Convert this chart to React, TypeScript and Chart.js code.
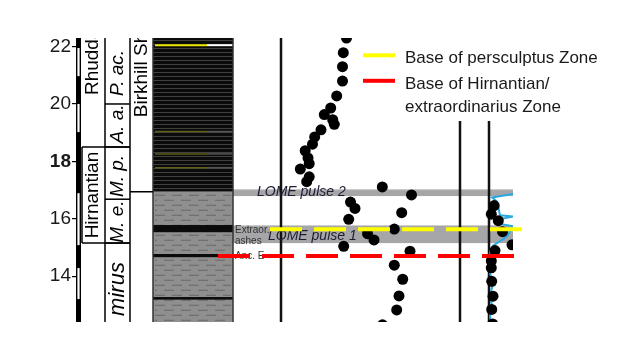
import React, { useEffect, useRef } from "react";
import { Chart, registerables } from "chart.js";

Chart.register(...registerables);

// ---- axis ----
const yTicks = [14, 16, 18, 20, 22];
const yMin = 12.4;
const yMax = 22.3;
const xMin = 0;
const xMax = 437;

// ---- isotope curve (left track) ----
const curveAx = [270.5, 267.3, 266.5, 266.5, 260.7, 254.7, 248.3, 256.7, 258.3, 245, 238.7, 236.5, 229.2, 232, 233.2, 224.3, 233.2, 230.7, 306.3, 335.5, 274.5, 279, 325.7, 272.7, 318.3, 291.5, 298, 267.7, 334, 318.3, 326.7, 323, 320.7, 306.5];
const curveAy = [22.3, 21.79, 21.3, 20.8, 20.28, 19.86, 19.63, 19.45, 19.29, 19.1, 18.85, 18.6, 18.37, 18.12, 17.92, 17.73, 17.46, 17.29, 17.11, 16.83, 16.58, 16.36, 16.21, 15.98, 15.64, 15.48, 15.26, 15.04, 14.87, 14.38, 13.89, 13.31, 12.82, 12.3];

// ---- right track ----
const curveBx = [418.2, 415.3, 422.3, 426.5, 436, 419, 415.3, 415.3, 415.7, 417, 415.7, 416.7];
const curveBy = [16.46, 16.16, 15.93, 15.55, 15.09, 14.89, 14.53, 14.29, 13.82, 13.3, 12.84, 12.33];
const cyanX = [437, 416, 421, 424, 437, 421, 424, 437, 431, 417, 414, 416, 414, 417, 414, 416, 414, 415];
const cyanY = [16.86, 16.74, 16.6, 16.12, 16.08, 15.96, 15.82, 15.74, 15.38, 15.06, 14.84, 14.49, 14.11, 13.72, 13.34, 12.96, 12.61, 12.33];

// ---- stratigraphy ----
const stageBounds = [18.5, 15.15];
const stageLabels = ["Rhuddanian", "Hirnantian"];
const zoneBounds = [20.0, 18.5, 16.68, 15.15];
const zoneLabels = ["P. ac.", "A. a.", "M. p.", "M. e.", "mirus"];
const zoneLabelY = [21.08, 19.3, 17.49, 15.9, 13.55];
const formationBase = 16.94;
const formationLabel = "Birkhill Shale";
const blackBeds = [[15.53, 15.78], [14.66, 14.77], [13.18, 13.27]];
const ashBeds = [22.05, 19.04, 18.26, 17.78];
const scaleBarBreaks = [21.95, 20.97, 20.0, 19.02, 16.89, 15.08, 14.28, 13.2];
const lomeBands = [[16.79, 17.03], [15.15, 15.78]];
const lomeLabels = ["LOME pulse 2", "LOME pulse 1"];
const lomeLabelY = [16.79, 15.26];
const ashNotes = ["Extraor.", "ashes", "Anc. E"];
const ashNoteY = [15.61, 15.21, 14.7];
const persculptusBase = 15.63;
const hirnantianBase = 14.7;
const legendLabels = ["Base of persculptus Zone", "Base of Hirnantian/", "extraordinarius Zone"];

const SANS = '"Liberation Sans", Arial, sans-serif';

function vText(ctx: CanvasRenderingContext2D, text: string, x: number, y: number, font: string, align: CanvasTextAlign) {
  ctx.save();
  ctx.translate(x, y);
  ctx.rotate(-Math.PI / 2);
  ctx.font = font;
  ctx.textAlign = align;
  ctx.textBaseline = "middle";
  ctx.fillStyle = "#000";
  ctx.fillText(text, 0, 0);
  ctx.restore();
}

function line(ctx: CanvasRenderingContext2D, x0: number, y0: number, x1: number, y1: number) {
  ctx.beginPath();
  ctx.moveTo(x0, y0);
  ctx.lineTo(x1, y1);
  ctx.stroke();
}

const figurePlugin = {
  id: "figure",
  beforeDatasetsDraw(chart: any) {
    const { ctx, chartArea: ca, scales } = chart;
    const X = (u: number) => scales.x.getPixelForValue(u);
    const Y = (v: number) => scales.y.getPixelForValue(v);
    ctx.save();
    ctx.beginPath();
    ctx.rect(ca.left, ca.top, ca.right - ca.left, ca.bottom - ca.top);
    ctx.clip();

    const lx0 = X(77), lx1 = X(157);

    // LOME bands
    ctx.fillStyle = "#a6a6a8";
    lomeBands.forEach(([a, b]) => ctx.fillRect(lx1, Y(b), ca.right - lx1, Y(a) - Y(b)));
    ctx.strokeStyle = "#cfcfd1";
    ctx.lineWidth = 1;
    lomeBands.forEach(([a, b]) => line(ctx, lx1, Y(b) + 0.5, ca.right, Y(b) + 0.5));

    // lithology: black shale top
    const yBase = Y(formationBase);
    ctx.fillStyle = "#0b0b0b";
    ctx.fillRect(lx0, ca.top, lx1 - lx0, yBase - ca.top);
    ctx.strokeStyle = "rgba(110,110,110,0.55)";
    ctx.lineWidth = 1;
    for (let py = ca.top + 2.5; py < yBase - 1; py += 4) line(ctx, lx0, py, lx1, py);
    ashBeds.forEach((v, i) => {
      const py = Y(v);
      ctx.lineWidth = i === 0 ? 2 : 1.5;
      ctx.strokeStyle = i === 0 ? "#e6e600" : "#5e5e18";
      line(ctx, lx0 + 2, py, X(131), py);
      ctx.strokeStyle = i === 0 ? "#ffffff" : "#555555";
      line(ctx, X(131), py, lx1, py);
    });
    // grey mudstone
    ctx.fillStyle = "#8f8f8f";
    ctx.fillRect(lx0, yBase, lx1 - lx0, ca.bottom - yBase);
    ctx.strokeStyle = "#686868";
    ctx.lineWidth = 1;
    ctx.setLineDash([10, 7]);
    let row = 0;
    for (let py = yBase + 3.5; py < ca.bottom; py += 5, row++) {
      ctx.lineDashOffset = row % 2 ? 8 : 0;
      line(ctx, lx0 + 2, py, lx1 - 2, py);
    }
    ctx.setLineDash([]);
    ctx.fillStyle = "#0b0b0b";
    blackBeds.forEach(([a, b]) => ctx.fillRect(lx0, Y(b), lx1 - lx0, Y(a) - Y(b)));
    ctx.strokeStyle = "#333";
    ctx.lineWidth = 1.5;
    ctx.strokeRect(lx0, ca.top - 3, lx1 - lx0, ca.bottom - ca.top + 6);

    // column boxes
    ctx.strokeStyle = "#000";
    ctx.lineWidth = 1.5;
    line(ctx, X(29), ca.top, X(29), ca.bottom);
    line(ctx, X(54), ca.top, X(54), ca.bottom);
    line(ctx, X(6), Y(stageBounds[0]), X(6), Y(stageBounds[1]));
    stageBounds.forEach((v) => line(ctx, X(6), Y(v), X(54), Y(v)));
    zoneBounds.forEach((v) => line(ctx, X(29), Y(v), X(54), Y(v)));
    line(ctx, X(54), yBase, lx0, yBase);

    // scale bar
    const edges = [yMax, ...scaleBarBreaks, yMin];
    ctx.fillStyle = "#000";
    for (let i = 0; i < edges.length - 1; i += 2) ctx.fillRect(X(0), Y(edges[i]), X(5) - X(0), Y(edges[i + 1]) - Y(edges[i]));
    ctx.lineWidth = 1.4;
    ctx.strokeRect(X(0.7), ca.top - 2, X(4.3) - X(0.7), ca.bottom - ca.top + 4);

    // vertical track lines
    ctx.strokeStyle = "#111";
    ctx.lineWidth = 2.5;
    [205, 384, 413].forEach((u) => line(ctx, X(u), ca.top, X(u), ca.bottom));

    // column texts
    vText(ctx, stageLabels[0], X(17), Y(20.31), `19px ${SANS}`, "left");
    vText(ctx, stageLabels[1], X(17), Y((stageBounds[0] + stageBounds[1]) / 2), `19px ${SANS}`, "center");
    zoneLabels.forEach((t, i) => {
      const size = i === 4 ? 22 : 19;
      vText(ctx, t, X(41.5), Y(zoneLabelY[i]), `italic ${size}px ${SANS}`, "center");
    });
    vText(ctx, formationLabel, X(65.5), Y(19.54), `19px ${SANS}`, "left");

    // small notes
    ctx.font = `10px ${SANS}`;
    ctx.fillStyle = "#333";
    ctx.textAlign = "left";
    ctx.textBaseline = "middle";
    ashNotes.forEach((t, i) => ctx.fillText(t, X(159), Y(ashNoteY[i])));

    // LOME labels
    ctx.font = `italic 14px ${SANS}`;
    ctx.fillStyle = "#1c1c34";
    ctx.textBaseline = "alphabetic";
    lomeLabels.forEach((t, i) => ctx.fillText(t, X(i === 0 ? 181 : 192), Y(lomeLabelY[i])));

    ctx.restore();
  },
  afterDraw(chart: any) {
    const { ctx, scales } = chart;
    const X = (u: number) => scales.x.getPixelForValue(u);
    const Y = (v: number) => scales.y.getPixelForValue(v);
    ctx.save();
    ctx.lineWidth = 4;
    ctx.setLineDash([32, 12]);
    ctx.strokeStyle = "#ffff00";
    line(ctx, X(194), Y(persculptusBase), X(446), Y(persculptusBase));
    ctx.strokeStyle = "#ff0000";
    line(ctx, X(142), Y(hirnantianBase), X(438), Y(hirnantianBase));
    ctx.setLineDash([]);

    // legend
    ctx.fillStyle = "#ffffff";
    ctx.fillRect(353, 36, 262, 85);
    ctx.lineWidth = 4;
    ctx.strokeStyle = "#ffff00";
    line(ctx, 363, 55.3, 395, 55.3);
    ctx.strokeStyle = "#ff0000";
    line(ctx, 363, 80.8, 395, 80.8);
    ctx.font = `17px ${SANS}`;
    ctx.fillStyle = "#1a1a1a";
    ctx.textAlign = "left";
    ctx.textBaseline = "middle";
    ctx.fillText(legendLabels[0], 405, 58.5);
    ctx.fillText(legendLabels[1], 405, 84.5);
    ctx.fillText(legendLabels[2], 405, 107.5);
    ctx.restore();
  },
};

export default function App() {
  const ref = useRef<HTMLCanvasElement | null>(null);
  useEffect(() => {
    if (!ref.current) return;
    const chart = new Chart(ref.current, {
      type: "scatter",
      data: {
        datasets: [
          {
            label: "curve A",
            data: curveAx.map((x, i) => ({ x, y: curveAy[i] })),
            backgroundColor: "#000",
            borderColor: "#000",
            pointRadius: 5.5,
            pointBorderWidth: 0,
            showLine: false,
            clip: 0,
          },
          {
            label: "curve B",
            data: curveBx.map((x, i) => ({ x, y: curveBy[i] })),
            backgroundColor: "#000",
            borderColor: "#000",
            pointRadius: 5.5,
            pointBorderWidth: 0,
            showLine: false,
            clip: 0,
          },
          {
            label: "trace",
            data: cyanX.map((x, i) => ({ x, y: cyanY[i] })),
            borderColor: "#2aa9e0",
            backgroundColor: "#2aa9e0",
            borderWidth: 2,
            pointRadius: 0,
            showLine: true,
            clip: 0,
          },
        ],
      },
      options: {
        animation: false,
        responsive: false,
        events: [],
        layout: { padding: { top: 38, bottom: 42, left: 0, right: 108 } },
        plugins: { legend: { display: false }, tooltip: { enabled: false } },
        scales: {
          x: { type: "linear", min: xMin, max: xMax, display: false },
          y: {
            type: "linear",
            position: "left",
            min: yMin,
            max: yMax,
            afterBuildTicks: (scale: any) => {
              scale.ticks = yTicks.map((v) => ({ value: v }));
            },
            afterFit: (scale: any) => {
              scale.width = 76;
            },
            border: { display: false },
            grid: { display: true, drawOnChartArea: false, drawTicks: true, tickLength: 4, color: "#000", lineWidth: 1.2 },
            ticks: {
              padding: 1,
              color: "#1a1a1a",
              font: (c: any) => ({ family: SANS, size: 19, weight: c.tick && c.tick.value === 18 ? "bold" : "normal" }),
            },
          },
        },
      },
      plugins: [figurePlugin],
    } as any);
    return () => chart.destroy();
  }, []);
  return (
    <div style={{ position: "fixed", left: 0, top: 0, width: 621, height: 364, background: "#fff" }}>
      <canvas ref={ref} width={621} height={364} style={{ display: "block" }} />
    </div>
  );
}
